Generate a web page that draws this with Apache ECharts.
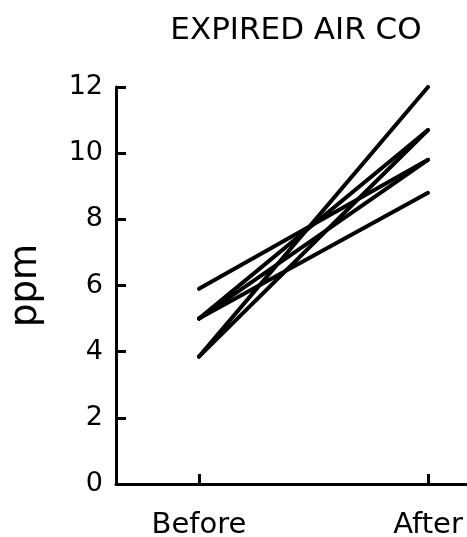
<!DOCTYPE html>
<html>
<head>
<meta charset="utf-8">
<script src="https://cdn.jsdelivr.net/npm/echarts@6/dist/echarts.min.js"></script>
<style>
  html, body { margin: 0; padding: 0; background: #fff; }
  #chart { width: 467px; height: 537px; }
</style>
</head>
<body>
<div id="chart"></div>
<script>
// categories on x, each subject's before / after reading
const categories = ['Before', 'After'];
const beforeValues = [5.9, 5.0, 5.0, 5.0, 3.85, 3.85];
const afterValues = [9.8, 8.8, 10.7, 9.8, 12.0, 10.7];
const yTicks = [0, 2, 4, 6, 8, 10, 12];

const font = 'DejaVu Sans';

// one line per subject
const series = beforeValues.map((b, i) => ({
  type: 'line',
  data: [[0, b], [1, afterValues[i]]],
  symbol: 'none',
  lineStyle: { color: '#000', width: 4, cap: 'round' },
  silent: true
}));

const chart = echarts.init(document.getElementById('chart'));
chart.setOption({
  animation: false,
  title: {
    text: 'EXPIRED AIR CO',
    left: 291,
    top: 10,
    textAlign: 'center',
    textStyle: { fontFamily: font, fontSize: 31, fontWeight: 'normal', color: '#000' }
  },
  grid: { left: 116, right: 1, top: 87, bottom: 53, outerBoundsMode: 'none', containLabel: false },
  xAxis: {
    type: 'value',
    min: -0.3624,
    max: 1.166,
    axisLine: { show: true, onZero: false, lineStyle: { color: '#000', width: 3 } },
    axisTick: { show: true, inside: true, length: 10, customValues: [0, 1], lineStyle: { color: '#000', width: 3 } },
    axisLabel: {
      customValues: [0, 1],
      formatter: v => categories[Math.round(v)],
      margin: 27,
      fontFamily: font, fontSize: 29, color: '#000'
    },
    splitLine: { show: false }
  },
  yAxis: {
    type: 'value',
    min: yTicks[0],
    max: yTicks[yTicks.length - 1],
    interval: 2,
    name: 'ppm',
    nameLocation: 'middle',
    nameRotate: 90,
    nameGap: 71,
    nameTextStyle: { fontFamily: font, fontSize: 37, color: '#000' },
    axisLine: { show: true, onZero: false, lineStyle: { color: '#000', width: 3 } },
    axisTick: { show: true, inside: true, length: 10, lineStyle: { color: '#000', width: 3 } },
    axisLabel: { margin: 13, fontFamily: font, fontSize: 27, color: '#000' },
    splitLine: { show: false }
  },
  series: series
});
</script>
</body>
</html>
